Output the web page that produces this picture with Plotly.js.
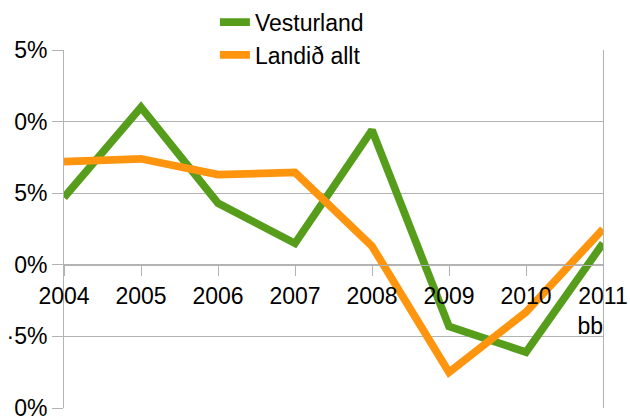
<!DOCTYPE html>
<html>
<head>
<meta charset="utf-8">
<script src="https://cdn.plot.ly/plotly-3.0.1.min.js"></script>
<style>html,body{margin:0;padding:0;background:#fff;}#chart{width:630px;height:418px;}</style>
</head>
<body>
<div id="chart"></div>
<script>
const categories = ['2004', '2005', '2006', '2007', '2008', '2009', '2010', '2011<br>bb\u00A0\u00A0\u00A0\u00A0'];
const vesturland = [4.7, 11.0, 4.3, 1.5, 9.4, -4.3, -6.1, 1.5];
const landidAllt = [7.2, 7.4, 6.3, 6.45, 1.3, -7.5, -3.3, 2.5];
const yTickVals = [15, 10, 5, 0, -5, -10];
const yTickText = ['5%', '0%', '5%', '0%', '\u00B75%', '0%'];

const grid = '#b3b3b3';
const font = {family: 'Liberation Sans, Arial, sans-serif', size: 23, color: '#000'};

const traces = [
  {x: categories, y: vesturland, name: 'Vesturland', type: 'scatter', mode: 'lines',
   line: {color: '#579d1c', width: 7.7}},
  {x: categories, y: landidAllt, name: 'Landið allt', type: 'scatter', mode: 'lines',
   line: {color: '#ff950e', width: 7.7}}
];

const layout = {
  width: 630, height: 418,
  margin: {l: 64, r: 27, t: 50, b: 10, autoexpand: false},
  paper_bgcolor: '#fff', plot_bgcolor: '#fff',
  font: font,
  showlegend: true,
  legend: {x: 0.28, y: 1.138, xanchor: 'left', yanchor: 'top', bgcolor: 'rgba(0,0,0,0)',
           font: font, borderwidth: 0},
  xaxis: {
    type: 'category', range: [0, 7], anchor: 'free', position: 143/358,
    showline: true, linecolor: grid, linewidth: 1,
    showgrid: false, zeroline: false,
    ticks: 'outside', ticklen: 10, tickcolor: grid, tickwidth: 1,
    tickfont: font, automargin: false, ticklabeloverflow: 'allow'
  },
  yaxis: {
    range: [-10, 15], tickvals: yTickVals, ticktext: yTickText,
    showline: true, linecolor: grid, linewidth: 1, mirror: true,
    showgrid: true, gridcolor: grid, gridwidth: 1, zeroline: false,
    ticks: 'outside', ticklen: 11, tickcolor: grid, tickwidth: 1,
    tickfont: font, automargin: false, ticklabeloverflow: 'allow'
  }
};

Plotly.newPlot('chart', traces, layout, {displayModeBar: false, staticPlot: true});
</script>
</body>
</html>
